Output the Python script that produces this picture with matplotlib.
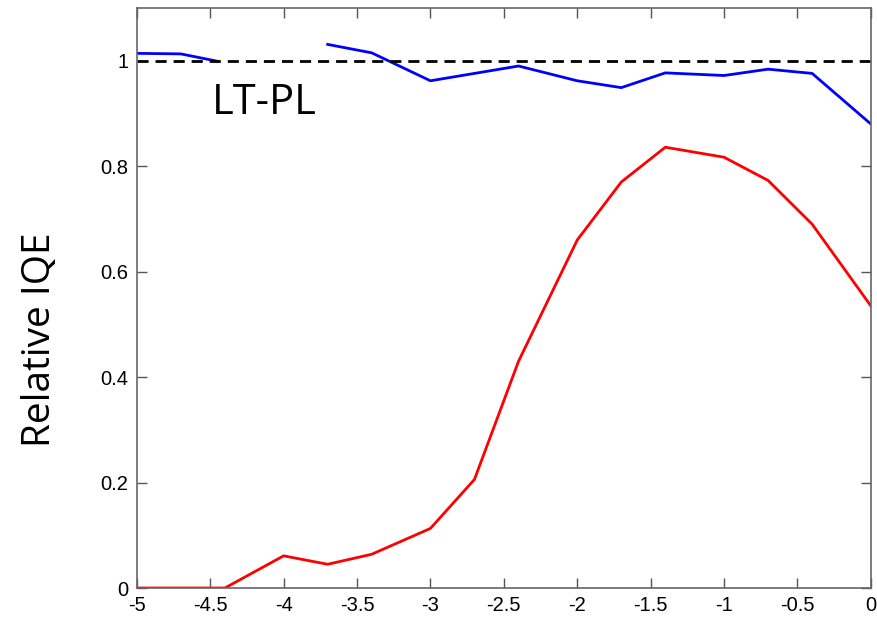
import matplotlib
matplotlib.use('Agg')
import matplotlib.pyplot as plt
import numpy as np

plt.rcParams['font.family'] = ['Liberation Sans', 'DejaVu Sans']

# red curve
x_red = [-5, -4.7, -4.4, -4, -3.7, -3.4, -3, -2.7, -2.4, -2, -1.7, -1.4, -1, -0.7, -0.4, 0]
y_red = [0, 0, 0, 0.061, 0.045, 0.064, 0.113, 0.206, 0.43, 0.66, 0.77, 0.836, 0.817, 0.773, 0.69, 0.535]

# blue curve (two pieces, gap between -4.4 and -3.7)
x_blue1 = [-5, -4.7, -4.45]
y_blue1 = [1.014, 1.013, 0.999]
x_blue2 = [-3.7, -3.4, -3, -2.4, -2, -1.7, -1.4, -1, -0.7, -0.4, 0]
y_blue2 = [1.031, 1.015, 0.962, 0.99, 0.962, 0.949, 0.977, 0.972, 0.984, 0.976, 0.880]

ref_level = 1.0

fig = plt.figure(figsize=(8.77, 6.17), dpi=100)
ax = fig.add_axes([0.156, 0.047, 0.837, 0.94])

ax.plot(x_red, y_red, color='#ff0000', lw=2)
ax.plot(x_blue1, y_blue1, color='#0000ff', lw=2)
ax.plot(x_blue2, y_blue2, color='#0000ff', lw=2)
ax.axhline(ref_level, color='black', lw=2, ls=(0, (4, 2.5)))

ax.set_xlim(-5, 0)
ax.set_ylim(0, 1.1)
ax.set_xticks(np.arange(-5, 0.01, 0.5))
ax.set_xticklabels(['-5', '-4.5', '-4', '-3.5', '-3', '-2.5', '-2', '-1.5', '-1', '-0.5', '0'])
ax.set_yticks([0, 0.2, 0.4, 0.6, 0.8, 1])
ax.set_yticklabels(['0', '0.2', '0.4', '0.6', '0.8', '1'])
ax.tick_params(direction='in', top=True, right=True, length=7, width=1, colors='#555555',
               labelcolor='black', labelsize=14.5, pad=6)
for s in ax.spines.values():
    s.set_color('#666666')
    s.set_linewidth(1.2)

ax.text(-4.13, 0.92, 'LT-PL', fontsize=30, ha='center', va='center', family=['Open Sans', 'DejaVu Sans'])
fig.text(0.046, 0.45, 'Relative IQE', rotation=90, fontsize=28, ha='center', va='center',
         family=['Open Sans', 'DejaVu Sans'])

plt.savefig('out.png', dpi=100)
